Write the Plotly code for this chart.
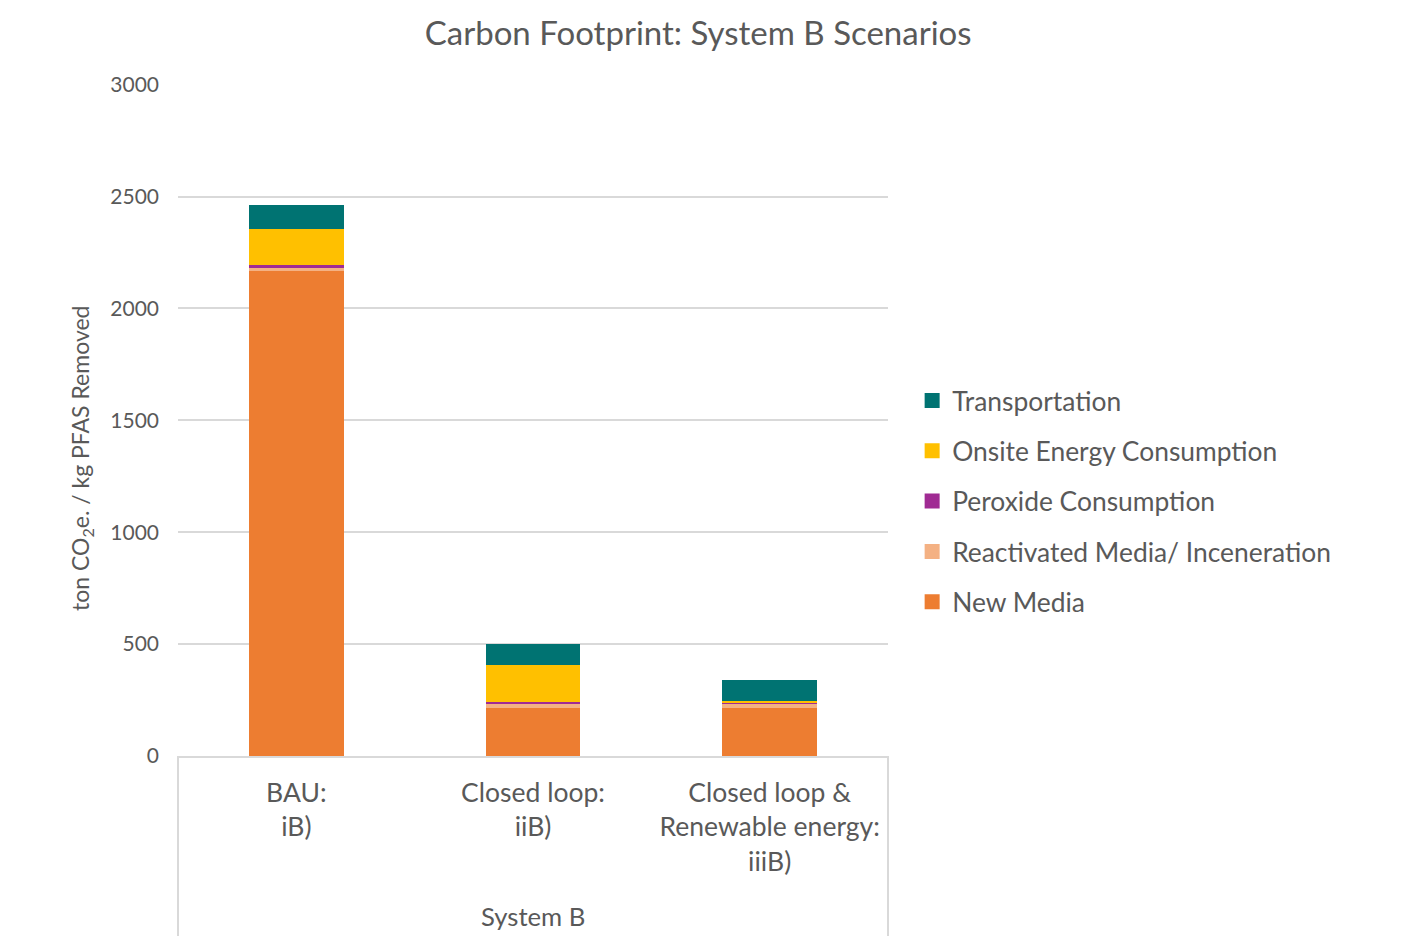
import plotly.graph_objects as go

categories = ["BAU:<br>iB)", "Closed loop:<br>iiB)", "Closed loop &<br>Renewable energy:<br>iiiB)"]
group_label = "System B"
new_media = [2168, 213, 213]
reactivated_media = [15, 18, 18]
peroxide = [9, 10, 10]
onsite_energy = [165, 164, 4]
transportation = [105, 94, 93]

series = [
    ("New Media", new_media, "#ED7D31"),
    ("Reactivated Media/ Inceneration", reactivated_media, "#F4B183"),
    ("Peroxide Consumption", peroxide, "#A02B93"),
    ("Onsite Energy Consumption", onsite_energy, "#FFC000"),
    ("Transportation", transportation, "#007372"),
]

FONT = "Lato, Calibri, Carlito, sans-serif"
GREY = "#595959"

fig = go.Figure()
n = len(series)
for i, (name, vals, color) in enumerate(series):
    fig.add_trace(go.Bar(
        x=categories, y=vals, name=name, legendgroup=name, showlegend=False,
        marker=dict(color=color, line=dict(width=0)),
    ))
# legend entries with larger square swatches
for i, (name, vals, color) in enumerate(series):
    fig.add_trace(go.Scatter(
        x=[None], y=[None], mode="markers", name=name, legendgroup=name,
        legendrank=n - i, hoverinfo="skip",
        marker=dict(symbol="square", size=15, color=color, line=dict(width=0)),
    ))

fig.update_layout(
    barmode="stack",
    bargap=0.6,
    width=1419, height=936,
    margin=dict(l=178, r=531, t=84, b=180, autoexpand=False),
    paper_bgcolor="white", plot_bgcolor="white",
    font=dict(family=FONT, color=GREY, size=21),
    title=dict(text="Carbon Footprint: System B Scenarios", x=0.492, xanchor="center",
               y=1 - 33/936, yanchor="middle", font=dict(size=33, color=GREY, family=FONT)),
    legend=dict(traceorder="grouped", tracegroupgap=13,
                x=1.034, xanchor="left", y=0.379, yanchor="middle",
                font=dict(size=26.4, color=GREY, family=FONT),
                itemsizing="trace", bgcolor="rgba(0,0,0,0)"),
    showlegend=True,
)
fig.update_yaxes(range=[0, 3003], dtick=500, showgrid=True, gridcolor="#D9D9D9", gridwidth=2,
                 zeroline=False, showline=False, ticks="", ticklabelstandoff=18,
                 tickfont=dict(size=21, color=GREY))
fig.update_xaxes(showline=True, linecolor="#D9D9D9", linewidth=2, ticks="",
                 ticklabelstandoff=12, tickfont=dict(size=26.5, color=GREY))

# y-axis title (offset like the original)
fig.add_annotation(text="ton CO<sub>2</sub>e. / kg PFAS Removed", xref="paper", yref="paper",
                   x=(81 - 178) / 710, xanchor="center", y=(756 - 458) / 672, yanchor="middle",
                   textangle=-90, showarrow=False, font=dict(size=23, color=GREY, family=FONT))

# group box for the category axis
for xp in (0, 1):
    fig.add_shape(type="line", xref="paper", yref="paper", x0=xp, x1=xp, y0=0, y1=-180/672,
                  line=dict(color="#D9D9D9", width=2))
fig.add_annotation(text=group_label, xref="paper", yref="paper", x=0.5, y=-(916-756)/672,
                   yanchor="middle", showarrow=False, font=dict(size=25.7, color=GREY, family=FONT))

fig.write_html("out.html")
